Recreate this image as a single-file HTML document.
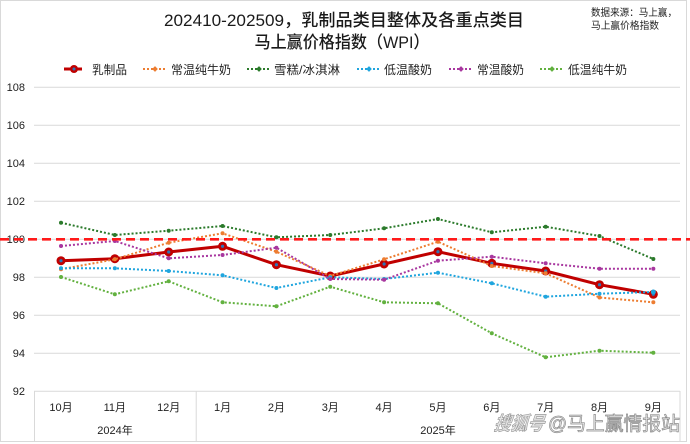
<!DOCTYPE html>
<html><head><meta charset="utf-8"><style>
html,body{margin:0;padding:0;background:#fff;}
svg{display:block;}
text{font-family:"Liberation Sans","Noto Sans CJK SC",sans-serif;}
</style></head><body>
<svg width="690" height="444" viewBox="0 0 690 444" xmlns="http://www.w3.org/2000/svg">
<rect x="0" y="0" width="690" height="444" fill="#fff"/>
<rect x="0.5" y="0.5" width="686" height="441" fill="none" stroke="#d9d9d9" stroke-width="1"/>

<!-- titles -->
<text x="344" y="26" text-anchor="middle" font-size="17" font-weight="500" fill="#1a1a1a" textLength="360" lengthAdjust="spacingAndGlyphs">202410-202509，乳制品类目整体及各重点类目</text>
<text x="342" y="48" text-anchor="middle" font-size="17" font-weight="500" fill="#1a1a1a" textLength="175" lengthAdjust="spacingAndGlyphs">马上赢价格指数（WPI）</text>
<text x="591" y="16" font-size="10" fill="#222" textLength="86" lengthAdjust="spacingAndGlyphs">数据来源：马上赢，</text>
<text x="591" y="29" font-size="10" fill="#222" textLength="68" lengthAdjust="spacingAndGlyphs">马上赢价格指数</text>

<!-- legend -->
<g font-size="12" fill="#222">
<line x1="64" y1="69" x2="82" y2="69" stroke="#c00000" stroke-width="3"/>
<circle cx="74" cy="69" r="4" fill="#c00000"/><circle cx="74" cy="69" r="1.5" fill="#2e75b6"/>
<text x="92" y="74" textLength="35" lengthAdjust="spacingAndGlyphs">乳制品</text>
<line x1="143" y1="69" x2="167" y2="69" stroke="#ed7d31" stroke-width="2" stroke-dasharray="2,2"/>
<rect x="153" y="67" width="4" height="4" fill="#ed7d31" transform="rotate(45 155 69)"/>
<text x="171" y="74" textLength="60" lengthAdjust="spacingAndGlyphs">常温纯牛奶</text>
<line x1="247" y1="69" x2="271" y2="69" stroke="#2b7a2b" stroke-width="2" stroke-dasharray="2,2"/>
<rect x="257" y="67" width="4" height="4" fill="#2b7a2b" transform="rotate(45 259 69)"/>
<text x="274" y="74" textLength="66" lengthAdjust="spacingAndGlyphs">雪糕/冰淇淋</text>
<line x1="357" y1="69" x2="381" y2="69" stroke="#1fa5de" stroke-width="2" stroke-dasharray="2,2"/>
<rect x="367" y="67" width="4" height="4" fill="#1fa5de" transform="rotate(45 369 69)"/>
<text x="384" y="74" textLength="48" lengthAdjust="spacingAndGlyphs">低温酸奶</text>
<line x1="449" y1="69" x2="473" y2="69" stroke="#a8379f" stroke-width="2" stroke-dasharray="2,2"/>
<rect x="459" y="67" width="4" height="4" fill="#a8379f" transform="rotate(45 461 69)"/>
<text x="477" y="74" textLength="47" lengthAdjust="spacingAndGlyphs">常温酸奶</text>
<line x1="540" y1="69" x2="564" y2="69" stroke="#62b13f" stroke-width="2" stroke-dasharray="2,2"/>
<rect x="550" y="67" width="4" height="4" fill="#62b13f" transform="rotate(45 552 69)"/>
<text x="568" y="74" textLength="59" lengthAdjust="spacingAndGlyphs">低温纯牛奶</text>
</g>

<!-- gridlines -->
<g stroke="#d9d9d9" stroke-width="1">
<line x1="34" y1="87.3" x2="680" y2="87.3"/>
<line x1="34" y1="125.3" x2="680" y2="125.3"/>
<line x1="34" y1="163.3" x2="680" y2="163.3"/>
<line x1="34" y1="201.3" x2="680" y2="201.3"/>
<line x1="34" y1="239.3" x2="680" y2="239.3"/>
<line x1="34" y1="277.3" x2="680" y2="277.3"/>
<line x1="34" y1="315.3" x2="680" y2="315.3"/>
<line x1="34" y1="353.3" x2="680" y2="353.3"/>
<line x1="34" y1="391.3" x2="680" y2="391.3"/>
<line x1="34.5" y1="391" x2="34.5" y2="441"/>
<line x1="196.2" y1="391" x2="196.2" y2="441"/>
<line x1="680" y1="391" x2="680" y2="441"/>
</g>

<!-- y labels -->
<g font-size="11" fill="#222" text-anchor="end">
<text x="25" y="91">108</text>
<text x="25" y="129">106</text>
<text x="25" y="167">104</text>
<text x="25" y="205">102</text>
<text x="25" y="243">100</text>
<text x="25" y="281">98</text>
<text x="25" y="319">96</text>
<text x="25" y="357">94</text>
<text x="25" y="395">92</text>
</g>

<!-- x labels -->
<g font-size="11" fill="#222" text-anchor="middle">
<text x="61" y="411">10月</text>
<text x="114.85" y="411">11月</text>
<text x="168.7" y="411">12月</text>
<text x="222.55" y="411">1月</text>
<text x="276.4" y="411">2月</text>
<text x="330.25" y="411">3月</text>
<text x="384.1" y="411">4月</text>
<text x="437.95" y="411">5月</text>
<text x="491.8" y="411">6月</text>
<text x="545.65" y="411">7月</text>
<text x="599.5" y="411">8月</text>
<text x="653.35" y="411">9月</text>
<text x="115" y="434">2024年</text>
<text x="438" y="434">2025年</text>
</g>

<!-- main red series -->
<polyline fill="none" stroke="#c00000" stroke-width="3" stroke-linejoin="round" points="61,260.7 114.85,258.7 168.7,252 222.55,246.3 276.4,264.7 330.25,276 384.1,264 437.95,251.7 491.8,263.3 545.65,271 599.5,284.7 653.35,294.3"/>
<g fill="#c00000">
<circle cx="61" cy="260.7" r="4.5"/><circle cx="114.85" cy="258.7" r="4.5"/><circle cx="168.7" cy="252" r="4.5"/><circle cx="222.55" cy="246.3" r="4.5"/><circle cx="276.4" cy="264.7" r="4.5"/><circle cx="330.25" cy="276" r="4.5"/><circle cx="384.1" cy="264" r="4.5"/><circle cx="437.95" cy="251.7" r="4.5"/><circle cx="491.8" cy="263.3" r="4.5"/><circle cx="545.65" cy="271" r="4.5"/><circle cx="599.5" cy="284.7" r="4.5"/><circle cx="653.35" cy="294.3" r="4.5"/>
</g>
<g fill="#2e75b6">
<circle cx="61" cy="260.7" r="1.6"/><circle cx="114.85" cy="258.7" r="1.6"/><circle cx="168.7" cy="252" r="1.6"/><circle cx="222.55" cy="246.3" r="1.6"/><circle cx="276.4" cy="264.7" r="1.6"/><circle cx="330.25" cy="276" r="1.6"/><circle cx="384.1" cy="264" r="1.6"/><circle cx="437.95" cy="251.7" r="1.6"/><circle cx="491.8" cy="263.3" r="1.6"/><circle cx="545.65" cy="271" r="1.6"/><circle cx="599.5" cy="284.7" r="1.6"/><circle cx="653.35" cy="294.3" r="1.6"/>
</g>

<!-- dotted series -->
<g fill="none" stroke-width="2" stroke-dasharray="2,2">
<polyline stroke="#ed7d31" points="61,269.3 114.85,259.3 168.7,242.7 222.55,233.3 276.4,251.7 330.25,276 384.1,259.3 437.95,241.7 491.8,266 545.65,273.3 599.5,297.5 653.35,302.3"/>
<polyline stroke="#2b7a2b" points="61,222.7 114.85,235 168.7,230.7 222.55,226 276.4,237.3 330.25,235 384.1,228.3 437.95,219 491.8,232.3 545.65,226.7 599.5,236 653.35,259"/>
<polyline stroke="#1fa5de" points="61,268.3 114.85,268.3 168.7,271 222.55,275.3 276.4,288 330.25,277.3 384.1,279 437.95,272.7 491.8,283.3 545.65,296.7 599.5,293.7 653.35,292"/>
<polyline stroke="#a8379f" points="61,246 114.85,241 168.7,258.3 222.55,255 276.4,247.7 330.25,279 384.1,279.7 437.95,260.7 491.8,256.7 545.65,263.3 599.5,268.7 653.35,268.7"/>
<polyline stroke="#62b13f" points="61,277 114.85,294.3 168.7,281.3 222.55,302.3 276.4,306.3 330.25,286.7 384.1,302.3 437.95,303.3 491.8,333.3 545.65,357.3 599.5,350.7 653.35,352.7"/>
</g>
<!-- small markers -->
<g>
<g fill="#ed7d31">
<circle cx="61" cy="269.3" r="2"/><circle cx="114.85" cy="259.3" r="2"/><circle cx="168.7" cy="242.7" r="2"/><circle cx="222.55" cy="233.3" r="2"/><circle cx="276.4" cy="251.7" r="2"/><circle cx="330.25" cy="276" r="2"/><circle cx="384.1" cy="259.3" r="2"/><circle cx="437.95" cy="241.7" r="2"/><circle cx="491.8" cy="266" r="2"/><circle cx="545.65" cy="273.3" r="2"/><circle cx="599.5" cy="297.5" r="2"/><circle cx="653.35" cy="302.3" r="2"/>
</g>
<g fill="#2b7a2b">
<circle cx="61" cy="222.7" r="2"/><circle cx="114.85" cy="235" r="2"/><circle cx="168.7" cy="230.7" r="2"/><circle cx="222.55" cy="226" r="2"/><circle cx="276.4" cy="237.3" r="2"/><circle cx="330.25" cy="235" r="2"/><circle cx="384.1" cy="228.3" r="2"/><circle cx="437.95" cy="219" r="2"/><circle cx="491.8" cy="232.3" r="2"/><circle cx="545.65" cy="226.7" r="2"/><circle cx="599.5" cy="236" r="2"/><circle cx="653.35" cy="259" r="2"/>
</g>
<g fill="#1fa5de">
<circle cx="61" cy="268.3" r="2"/><circle cx="114.85" cy="268.3" r="2"/><circle cx="168.7" cy="271" r="2"/><circle cx="222.55" cy="275.3" r="2"/><circle cx="276.4" cy="288" r="2"/><circle cx="330.25" cy="277.3" r="2"/><circle cx="384.1" cy="279" r="2"/><circle cx="437.95" cy="272.7" r="2"/><circle cx="491.8" cy="283.3" r="2"/><circle cx="545.65" cy="296.7" r="2"/><circle cx="599.5" cy="293.7" r="2"/><circle cx="653.35" cy="292" r="2.5"/>
</g>
<g fill="#a8379f">
<circle cx="61" cy="246" r="2"/><circle cx="114.85" cy="241" r="2"/><circle cx="168.7" cy="258.3" r="2"/><circle cx="222.55" cy="255" r="2"/><circle cx="276.4" cy="247.7" r="2"/><circle cx="330.25" cy="279" r="2"/><circle cx="384.1" cy="279.7" r="2"/><circle cx="437.95" cy="260.7" r="2"/><circle cx="491.8" cy="256.7" r="2"/><circle cx="545.65" cy="263.3" r="2"/><circle cx="599.5" cy="268.7" r="2"/><circle cx="653.35" cy="268.7" r="2"/>
</g>
<g fill="#62b13f">
<circle cx="61" cy="277" r="2"/><circle cx="114.85" cy="294.3" r="2"/><circle cx="168.7" cy="281.3" r="2"/><circle cx="222.55" cy="302.3" r="2"/><circle cx="276.4" cy="306.3" r="2"/><circle cx="330.25" cy="286.7" r="2"/><circle cx="384.1" cy="302.3" r="2"/><circle cx="437.95" cy="303.3" r="2"/><circle cx="491.8" cy="333.3" r="2"/><circle cx="545.65" cy="357.3" r="2"/><circle cx="599.5" cy="350.7" r="2"/><circle cx="653.35" cy="352.7" r="2"/>
</g>
</g>

<!-- 100 reference line -->
<line x1="0" y1="239.3" x2="690" y2="239.3" stroke="#ff1a1a" stroke-width="2.6" stroke-dasharray="9,5"/>

<!-- watermark -->
<text x="494" y="430" font-size="19" font-style="italic" font-weight="bold" fill="#e6e6e6" stroke="#9a9a9a" stroke-width="0.7" transform="skewX(-8) translate(60,0)" textLength="50" lengthAdjust="spacingAndGlyphs">搜狐号</text>
<text x="548" y="430" font-size="19" fill="#eeeeee" stroke="#8c8c8c" stroke-width="0.7" textLength="132" lengthAdjust="spacingAndGlyphs">@马上赢情报站</text>
</svg>
</body></html>
